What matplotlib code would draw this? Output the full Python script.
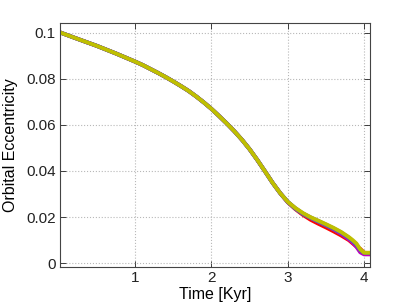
import numpy as np
import matplotlib
matplotlib.use("Agg")
import matplotlib.pyplot as plt

plt.rcParams['font.family'] = ['Liberation Sans', 'DejaVu Sans']

# time grid [Kyr]
time = [0.02, 0.25, 0.5, 0.75, 1.0, 1.1, 1.2, 1.3, 1.4, 1.5, 1.6, 1.7, 1.8,
        1.9, 2.0, 2.1, 2.2, 2.3, 2.4, 2.5, 2.6, 2.7, 2.8, 2.9,
        3.0, 3.1, 3.2, 3.3, 3.4, 3.5, 3.6, 3.7, 3.8, 3.85, 3.9, 3.95, 4.0, 4.08]

# shared early part of all runs (up to 2.9 Kyr)
early = [0.1000, 0.0972, 0.0942, 0.0909, 0.0874, 0.0859, 0.0842, 0.0825,
         0.0807, 0.0788, 0.0768, 0.0747, 0.0723, 0.0697, 0.0669, 0.0638,
         0.0606, 0.0572, 0.0535, 0.0494, 0.0448, 0.0399, 0.0349, 0.0304]

# late part of each run (3.0 Kyr onward)
tail_red = [0.0264, 0.0234, 0.0209, 0.0188, 0.0171, 0.0155, 0.0138, 0.0120,
            0.0100, 0.0086, 0.0072, 0.0062, 0.0045, 0.0043]
tail_cyan = [0.0265, 0.0236, 0.0213, 0.0196, 0.0180, 0.0164, 0.0147, 0.0128,
             0.0106, 0.0092, 0.0074, 0.0052, 0.0044, 0.0044]
tail_magenta = [0.0265, 0.0237, 0.0214, 0.0197, 0.0181, 0.0165, 0.0148, 0.0128,
                0.0104, 0.0090, 0.0071, 0.0047, 0.0038, 0.0038]
tail_blue = [0.0266, 0.0238, 0.0215, 0.0198, 0.0183, 0.0167, 0.0151, 0.0133,
             0.0110, 0.0096, 0.0080, 0.0056, 0.0044, 0.0044]
tail_yellow = [0.0266, 0.0239, 0.0217, 0.0199, 0.0184, 0.0169, 0.0153, 0.0135,
               0.0113, 0.0100, 0.0085, 0.0060, 0.0045, 0.0045]

runs = [("#ff0000", tail_red), ("#00bfbf", tail_cyan), ("#bf00bf", tail_magenta),
        ("#4060c0", tail_blue), ("#bfbf00", tail_yellow)]

fig = plt.figure(figsize=(4.09, 3.08), dpi=100)
ax = fig.add_axes([0.147, 0.133, 0.758, 0.792])

for color, tail in runs:
    ax.plot(time, early + tail, color=color, linewidth=2.8, solid_capstyle='butt')

ax.set_xlim(0.017, 4.08)
ax.set_ylim(-0.0017, 0.1041)
ax.set_xticks([1, 2, 3, 4])
ax.set_xticklabels(['1', '2', '3', '4'])
ax.set_yticks([0, 0.02, 0.04, 0.06, 0.08, 0.1])
ax.set_yticklabels(['0', '0.02', '0.04', '0.06', '0.08', '0.1'])

ax.grid(True, linestyle=':', color='#b8b8b8', linewidth=0.8)
ax.tick_params(direction='in', top=True, right=True, length=4, width=0.6,
               labelsize=11, colors='#222222', pad=3)
for s in ax.spines.values():
    s.set_color('#444444')
    s.set_linewidth(0.8)

ax.set_xlabel('Time [Kyr]', fontsize=11.5, labelpad=1)
ax.set_ylabel('Orbital Eccentricity', fontsize=11.5, labelpad=6)

fig.savefig('out.png', dpi=100)
